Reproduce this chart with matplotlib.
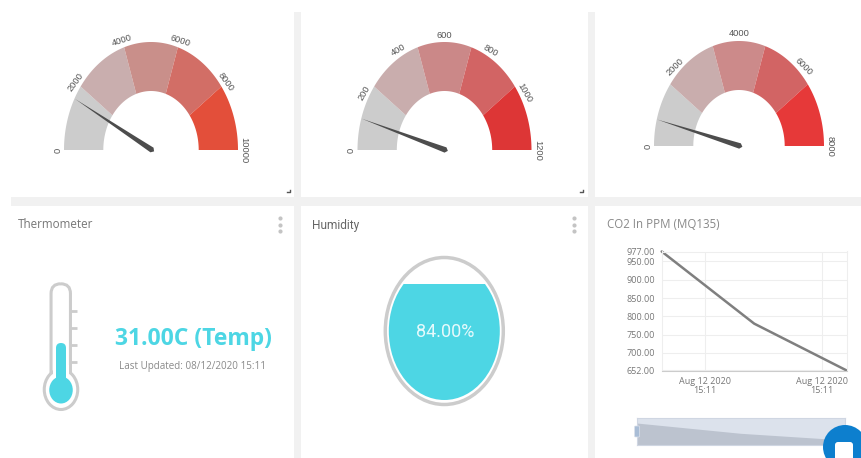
import numpy as np
import matplotlib
matplotlib.use('Agg')
import matplotlib.pyplot as plt
from matplotlib.patches import Ellipse, Rectangle, FancyBboxPatch, Polygon, Circle

# gauges
gauge_max = [10000, 1200, 8000]
gauge_steps = [[0, 2000, 4000, 6000, 8000, 10000],
               [0, 200, 400, 600, 800, 1000, 1200],
               [0, 2000, 4000, 6000, 8000]]
gauge_values = [1580, 113, 652]
gauge_colors = [['#cccccc', '#c9aeae', '#c98f8a', '#d26e66', '#e34f3a'],
                ['#cccccc', '#c9adad', '#cb8888', '#d26464', '#dd3636'],
                ['#cccccc', '#c9adad', '#cc8a8a', '#d26464', '#e63939']]

# thermometer / humidity
temp_text = '31.00C (Temp)'
updated_text = 'Last Updated: 08/12/2020 15:11'
humidity = 84.0

# co2 line
co2_seconds = [0, 15, 30]
co2_ppm = [977, 780, 652]
co2_yticks = [652, 700, 750, 800, 850, 900, 950, 977]
co2_xticks = [7, 26]
co2_xlabels = ['Aug 12 2020\n15:11', 'Aug 12 2020\n15:11']

W, H = 862, 458
CYAN = '#4dd6e4'
GREY = '#cccccc'
BAND = '#f1f1f1'
TICK = '#777777'

fig = plt.figure(figsize=(W / 100, H / 100), dpi=100, facecolor='white')
ax = fig.add_axes([0, 0, 1, 1])
ax.set_xlim(0, W)
ax.set_ylim(H, 0)
ax.axis('off')


def px_axes(x0, y0, x1, y1):
    return fig.add_axes([x0 / W, 1 - y1 / H, (x1 - x0) / W, (y1 - y0) / H])


def gauge(cx, cy, rx, ry, rx_in, ry_in, vmax, steps, value, colors):
    # bands, one per colour, evenly split over the half circle
    edges = np.linspace(0, vmax, len(colors) + 1)
    for i, c in enumerate(colors):
        t = np.radians(180 - np.linspace(edges[i], edges[i + 1], 40) / vmax * 180)
        xs = np.r_[cx + rx * np.cos(t), cx + rx_in * np.cos(t[::-1])]
        ys = np.r_[cy - ry * np.sin(t), cy - ry_in * np.sin(t[::-1])]
        ax.add_patch(Polygon(np.c_[xs, ys], closed=True, fc=c, ec='none'))
    for s in steps:
        deg = 180 - s / vmax * 180
        a = np.radians(deg)
        lx = cx + (rx + 6) * np.cos(a)
        ly = cy - (ry + 7) * np.sin(a)
        ax.text(lx, ly, str(s), fontsize=6.7, color='#555555', family='Liberation Sans',
                rotation=deg - 90, rotation_mode='anchor', ha='center', va='center')
    # needle
    a = np.radians(180 - value / vmax * 180)
    tip = np.array([cx + rx * 0.995 * np.cos(a), cy - ry * 0.995 * np.sin(a)])
    base = np.array([cx + 1, cy])
    d = (tip - base) / np.hypot(*(tip - base))
    n = np.array([-d[1], d[0]])
    pts = [tip, base + d * 18 + n * 2.2, base + n * 2.8, base - d * 2.5, base - n * 2.8, base + d * 18 - n * 2.2]
    ax.add_patch(Polygon(pts, closed=True, fc='#4d4d4d', ec='none', zorder=5))


# grey gaps between the tiles
ax.add_patch(Rectangle((11, 197), W - 11, 9, fc=BAND, ec='none'))
ax.add_patch(Rectangle((294, 12), 7, H - 12, fc=BAND, ec='none'))
ax.add_patch(Rectangle((588, 12), 7, H - 12, fc=BAND, ec='none'))

gauge(151, 150, 87, 108, 47.7, 59, gauge_max[0], gauge_steps[0], gauge_values[0], gauge_colors[0])
gauge(444.5, 150, 87, 108, 47.7, 59, gauge_max[1], gauge_steps[1], gauge_values[1], gauge_colors[1])
gauge(739, 146, 85, 105, 45.7, 56, gauge_max[2], gauge_steps[2], gauge_values[2], gauge_colors[2])

# little resize corners
for x in [290, 583]:
    ax.plot([x - 2.5, x, x], [192, 192, 189.5], color='#555555', lw=1)

# titles
ax.text(18, 225, 'Thermometer', fontsize=8.4, color='#777777', family='Open Sans', va='center')
ax.text(312, 225, 'Humidity', fontsize=8.6, color='#666666', family='Roboto', va='center')
ax.text(607, 225, 'CO2 In PPM (MQ135)', fontsize=8.3, color='#888888', family='Open Sans', va='center')
for x in [280, 574]:
    ax.scatter([x] * 3, [218, 225, 231], s=9, color='#c4c4c4', linewidths=0)

# thermometer
ax.add_patch(FancyBboxPatch((60.75, 293.5), 0, 85, boxstyle='round,pad=9.7,rounding_size=9.7',
                            fc='white', ec=GREY, lw=2.2))
for y in [310.7, 328, 345, 362]:
    ax.plot([71.5, 77], [y, y], color=GREY, lw=2, solid_capstyle='butt')
ax.add_patch(Ellipse((61, 389.5), 33.5, 40, fc='white', ec=GREY, lw=2.2))
ax.add_patch(Rectangle((52.7, 365), 16.6, 15, fc='white', ec='none'))
ax.add_patch(FancyBboxPatch((61, 348), 0, 30, boxstyle='round,pad=5,rounding_size=5', fc=CYAN, ec='none'))
ax.add_patch(Ellipse((61, 390), 23.5, 27, fc=CYAN, ec='none'))
ax.text(193, 339, temp_text, fontsize=16.5, color=CYAN, family='Open Sans', weight='bold',
        ha='center', va='center')
ax.text(192.7, 366, updated_text, fontsize=7.1, color='#8a8a8a', family='Open Sans', ha='center', va='center')

# humidity
ax.add_patch(Ellipse((444.3, 331), 118, 147, fc='white', ec=GREY, lw=2.5))
inner = Ellipse((444.3, 331), 111, 138, fc='none', ec='none')
ax.add_patch(inner)
fill_top = 331 + 69 - 138 * humidity / 100
fill = Rectangle((380, fill_top), 130, 400 - fill_top, fc=CYAN, ec='none')
ax.add_patch(fill)
fill.set_clip_path(inner)
ax.text(445, 332, '%.2f%%' % humidity, fontsize=13, color='#e6fafc', family='Roboto', ha='center', va='center')

# co2 line chart
ax2 = px_axes(661.7, 251.5, 846.7, 370.5)
ax2.plot(co2_seconds, co2_ppm, color='#7f7f7f', lw=1.8, solid_capstyle='round', clip_on=False)
ax2.set_xlim(co2_seconds[0], co2_seconds[-1])
ax2.set_ylim(min(co2_ppm), max(co2_ppm))
ax2.set_yticks(co2_yticks)
ax2.set_yticklabels(['%.2f' % v for v in co2_yticks])
ax2.set_xticks(co2_xticks)
ax2.set_xticklabels(co2_xlabels, linespacing=0.9)
ax2.grid(True, color='#eeeeee', lw=0.8)
ax2.set_axisbelow(True)
ax2.tick_params(length=0, labelsize=6.5, labelcolor=TICK, pad=5)
for lbl in ax2.get_xticklabels() + ax2.get_yticklabels():
    lbl.set_family('Open Sans')
for side in ['top', 'right']:
    ax2.spines[side].set_color('#eeeeee')
    ax2.spines[side].set_linewidth(0.8)
ax2.spines['left'].set_color('#eeeeee')
ax2.spines['bottom'].set_color('#cccccc')
ax2.patch.set_alpha(0)

# navigator below the chart
ax3 = px_axes(636.7, 418.3, 845, 445)
ax3.fill_between(co2_seconds, co2_ppm, 557, color='#bcc3cf', lw=0)
ax3.set_xlim(co2_seconds[0], co2_seconds[-1])
ax3.set_ylim(557, 1067)
ax3.set_facecolor('#dce2ec')
ax3.set_xticks([])
ax3.set_yticks([])
for s in ax3.spines.values():
    s.set_color('#cfd6e2')
    s.set_linewidth(0.8)

# handle + chat bubble go on top of the other axes
top = fig.add_axes([0, 0, 1, 1], facecolor='none')
top.set_xlim(0, W)
top.set_ylim(H, 0)
top.axis('off')
top.add_patch(FancyBboxPatch((635.5, 427), 3, 9, boxstyle='round,pad=1,rounding_size=1', fc='#a9bdd6', ec='#dce2ec', lw=0.5))
top.add_patch(Circle((845, 447), 22, fc='#0d7fce', ec='none'))
top.add_patch(FancyBboxPatch((838, 445), 12, 15, boxstyle='round,pad=3,rounding_size=3', fc='white', ec='none'))

fig.savefig('out.png', dpi=100)
